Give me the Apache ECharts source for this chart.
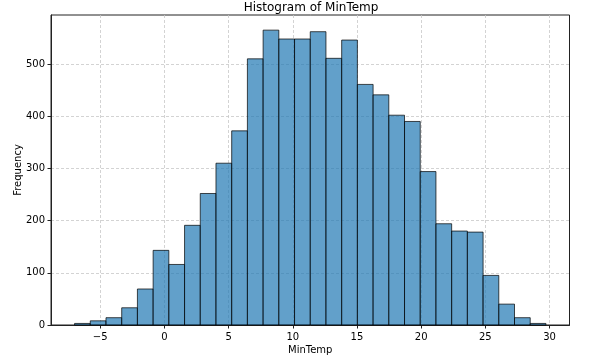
<!DOCTYPE html>
<html>
<head>
<meta charset="utf-8">
<script src="https://cdn.jsdelivr.net/npm/echarts@6/dist/echarts.min.js"></script>
<style>
  html, body { margin: 0; padding: 0; background: #fff; }
  #main { width: 591px; height: 363px; }
</style>
</head>
<body>
<div id="main"></div>
<script>
// histogram bins: first edge + width, counts per bin
var binStart = -7.0
var binWidth = 1.224
var counts = [3, 8, 14, 33, 69, 143, 116, 191, 252, 310, 372, 510, 565, 548, 548,
              562, 511, 546, 461, 441, 402, 390, 294, 194, 180, 178, 95, 40, 14, 3]
var xTicks = [-5, 0, 5, 10, 15, 20, 25, 30]
var yTicks = [0, 100, 200, 300, 400, 500]

// [left edge, right edge, count]
var bins = counts.map(function (c, i) {
  return [binStart + i * binWidth, binStart + (i + 1) * binWidth, c]
})

var font = 'DejaVu Sans'
var myChart = echarts.init(document.getElementById('main'))
var option = {
  animation: false,
  backgroundColor: '#fff',
  title: {
    text: 'Histogram of MinTemp',
    left: 311, top: 2, textAlign: 'center', padding: 0,
    textStyle: { fontFamily: font, fontSize: 12, fontWeight: 'normal', color: '#000' }
  },
  grid: {
    left: 51, right: 21.5, top: 15, bottom: 38,
    outerBoundsMode: 'none', containLabel: false,
    show: true, borderColor: '#222', borderWidth: 1
  },
  xAxis: {
    type: 'value',
    min: -8.836, max: 31.556,
    name: 'MinTemp', nameLocation: 'middle', nameGap: 20, nameMoveOverlap: false,
    nameTextStyle: { fontFamily: font, fontSize: 10, color: '#000' },
    axisLine: { show: true, onZero: false, lineStyle: { color: '#222', width: 1 } },
    axisTick: { show: true, length: 3.5, customValues: xTicks, lineStyle: { color: '#222' } },
    axisLabel: { customValues: xTicks, fontFamily: font, fontSize: 10, color: '#000', margin: 7,
      formatter: function (v) { return v < 0 ? '\u2212' + (-v) : '' + v } },
    splitLine: { show: true, lineStyle: { color: '#c8c8c8', type: [3, 2], width: 0.8 } }
  },
  yAxis: {
    type: 'value',
    min: 0, max: 594,
    name: 'Frequency', nameLocation: 'middle', nameGap: 28, nameMoveOverlap: false,
    nameTextStyle: { fontFamily: font, fontSize: 10, color: '#000' },
    axisLine: { show: true, onZero: false, lineStyle: { color: '#222', width: 1 } },
    axisTick: { show: true, length: 3.5, customValues: yTicks, lineStyle: { color: '#222' } },
    axisLabel: { customValues: yTicks, fontFamily: font, fontSize: 10, color: '#000', margin: 6 },
    splitLine: { show: true, lineStyle: { color: '#c8c8c8', type: [3, 2], width: 0.8 } }
  },
  series: [{
    type: 'custom',
    data: bins,
    encode: { x: [0, 1], y: 2 },
    renderItem: function (params, api) {
      var p0 = api.coord([api.value(0), api.value(2)])
      var p1 = api.coord([api.value(1), 0])
      return {
        type: 'rect',
        shape: { x: p0[0], y: p0[1], width: p1[0] - p0[0], height: p1[1] - p0[1] },
        style: { fill: 'rgba(31,119,180,0.7)', stroke: 'rgba(0,0,0,0.7)', lineWidth: 1 }
      }
    }
  }]
}
myChart.setOption(option)
</script>
</body>
</html>
